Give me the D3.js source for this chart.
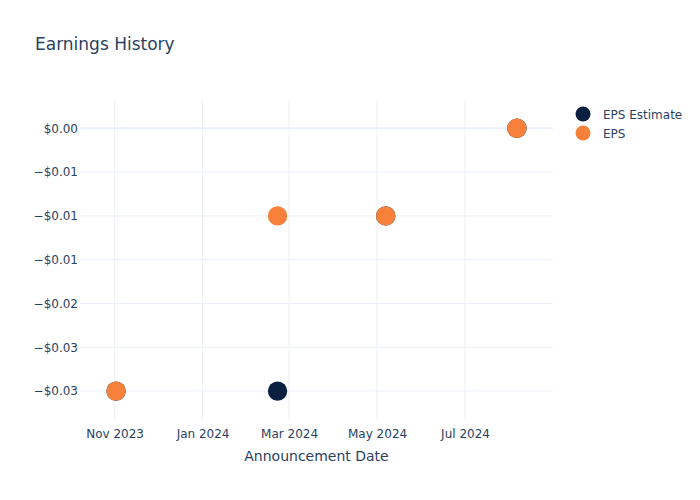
<!DOCTYPE html>
<html>
<head>
<meta charset="utf-8">
<script src="https://cdn.jsdelivr.net/npm/d3@7/dist/d3.min.js"></script>
<style>
  body { margin: 0; background: #fff; }
  text { font-family: "DejaVu Sans", sans-serif; }
</style>
</head>
<body>
<svg id="chart" width="700" height="500"></svg>
<script>
const dates = ["2023-11-02", "2024-02-22", "2024-05-07", "2024-08-06"];
const epsEstimate = [-0.03, -0.03, -0.01, 0.0];
const eps = [-0.03, -0.01, -0.01, 0.0];
const yTickValues = [0, -0.005, -0.01, -0.015, -0.02, -0.025, -0.03];
const yTickLabels = ["$0.00", "−$0.01", "−$0.01", "−$0.01", "−$0.02", "−$0.03", "−$0.03"];
const xTickDates = ["2023-11-01", "2024-01-01", "2024-03-01", "2024-05-01", "2024-07-01"];
const xTickLabels = ["Nov 2023", "Jan 2024", "Mar 2024", "May 2024", "Jul 2024"];
const seriesNames = ["EPS Estimate", "EPS"];
const seriesColors = ["#0b1f41", "#f7813a"];

const parse = d3.utcParse("%Y-%m-%d");
const svg = d3.select("#chart");
const W = 700, H = 500;
const m = { l: 80, r: 147, t: 100, b: 80 };
const FONT = "'DejaVu Sans', sans-serif";

const x = d3.scaleUtc()
  .domain([parse("2023-10-08"), parse("2024-08-31")])
  .range([m.l, W - m.r]);
const y = d3.scaleLinear()
  .domain([-0.0333, 0.00323])
  .range([H - m.b, m.t]);

svg.append("rect").attr("width", W).attr("height", H).attr("fill", "#fff");

const grid = "#ebf0f8";
svg.append("g").selectAll("line").data(xTickDates).join("line")
  .attr("x1", d => x(parse(d))).attr("x2", d => x(parse(d)))
  .attr("y1", m.t).attr("y2", H - m.b)
  .attr("stroke", grid).attr("stroke-width", 1);
svg.append("g").selectAll("line").data(yTickValues).join("line")
  .attr("x1", m.l).attr("x2", W - m.r)
  .attr("y1", d => y(d)).attr("y2", d => y(d))
  .attr("stroke", grid).attr("stroke-width", d => d === 0 ? 2 : 1);

const yAxis = d3.axisLeft(y).tickValues(yTickValues)
  .tickFormat((d, i) => yTickLabels[i]).tickSize(0).tickPadding(2);
const gy = svg.append("g").attr("transform", `translate(${m.l},0)`).call(yAxis);
gy.select(".domain").remove();
gy.selectAll("text").attr("font-size", 12).attr("fill", "#2a3f5f").attr("font-family", FONT);

const xAxis = d3.axisBottom(x).tickValues(xTickDates.map(parse))
  .tickFormat((d, i) => xTickLabels[i]).tickSize(0).tickPadding(9);
const gx = svg.append("g").attr("transform", `translate(0,${H - m.b})`).call(xAxis);
gx.select(".domain").remove();
gx.selectAll("text").attr("font-size", 12).attr("fill", "#2a3f5f").attr("font-family", FONT);

svg.append("text").attr("x", (m.l + W - m.r) / 2).attr("y", 461)
  .attr("text-anchor", "middle").attr("font-size", 14).attr("fill", "#2a3f5f")
  .text("Announcement Date");

svg.append("text").attr("x", 35).attr("y", 50)
  .attr("font-size", 17).attr("fill", "#2a3f5f").text("Earnings History");

const series = [epsEstimate, eps];
series.forEach((vals, si) => {
  svg.append("g").selectAll("circle").data(vals).join("circle")
    .attr("cx", (d, i) => x(parse(dates[i])))
    .attr("cy", d => y(d))
    .attr("r", 9.7)
    .attr("fill", seriesColors[si]);
});

const lg = svg.append("g");
seriesNames.forEach((name, i) => {
  const yy = 114 + i * 19;
  lg.append("circle").attr("cx", 583).attr("cy", yy).attr("r", 7.5)
    .attr("fill", seriesColors[i]);
  lg.append("text").attr("x", 603).attr("y", yy + 4.5)
    .attr("font-size", 12).attr("fill", "#2a3f5f").attr("font-family", FONT).text(name);
});
</script>
</body>
</html>
